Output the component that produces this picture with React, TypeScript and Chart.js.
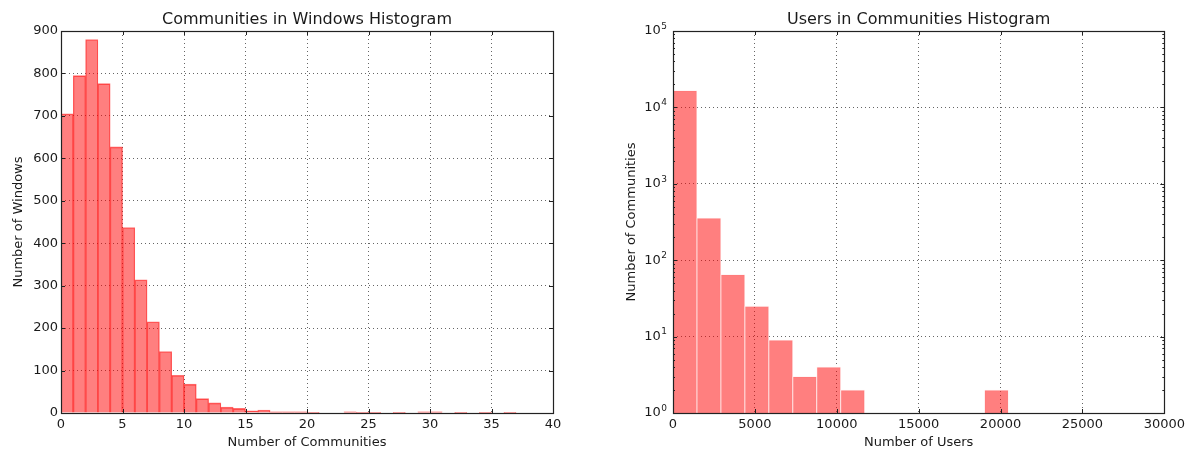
import React, { useEffect, useRef } from "react";
import { Chart, registerables } from "chart.js";

Chart.register(...registerables);

// ---------- Data ----------
// Left: Communities in Windows histogram (bins of width 1 from 0 to 40)
const windowBinStart = 0;
const windowBinWidth = 1;
const windowCounts = [
  705, 795, 880, 776, 627, 437, 314, 215, 145, 89,
  68, 34, 24, 14, 11, 5, 7, 3, 3, 3,
  1, 0, 0, 3, 1, 1, 0, 1, 0, 3,
  3, 0, 1, 0, 1, 0, 1, 0, 0, 0,
];
const windowXTicks = [0, 5, 10, 15, 20, 25, 30, 35, 40];
const windowYTicks = [0, 100, 200, 300, 400, 500, 600, 700, 800, 900];

// Right: Users in Communities histogram (14 bins)
const userBinStart = 0;
const userBinWidth = 1463;
const userCounts = [16600, 356, 65, 25, 9, 3, 4, 2, 0, 0, 0, 0, 0, 2];
const userXTicks = [0, 5000, 10000, 15000, 20000, 25000, 30000];
const userYExponents = [0, 1, 2, 3, 4, 5];

const FONT = "'DejaVu Sans', sans-serif";
const TEXT = "#1a1a1a";

function toBars(start: number, width: number, counts: number[]) {
  return counts.map((c, i) => ({ x: start + width * (i + 0.5), y: c > 0 ? c : null }));
}

function isPow10(v: number) {
  const l = Math.log10(v);
  return Math.abs(l - Math.round(l)) < 1e-9;
}

const mplFrame = {
  id: "mplFrame",
  afterDraw(chart: any, _args: any, opts: any) {
    const { ctx, chartArea: a } = chart;
    const xs = chart.scales.x;
    const ys = chart.scales.y;
    ctx.save();
    ctx.strokeStyle = "#222";
    ctx.lineWidth = 1;
    ctx.beginPath();
    for (const t of xs.ticks) {
      const px = Math.round(xs.getPixelForValue(t.value)) + 0.5;
      ctx.moveTo(px, a.bottom);
      ctx.lineTo(px, a.bottom - 4);
      ctx.moveTo(px, a.top);
      ctx.lineTo(px, a.top + 4);
    }
    for (const t of ys.ticks) {
      const major = opts.log ? isPow10(t.value) : true;
      const len = major ? 4 : 2;
      const py = Math.round(ys.getPixelForValue(t.value)) + 0.5;
      ctx.moveTo(a.left, py);
      ctx.lineTo(a.left + len, py);
      ctx.moveTo(a.right, py);
      ctx.lineTo(a.right - len, py);
    }
    ctx.stroke();
    ctx.lineWidth = 1.2;
    ctx.strokeRect(Math.round(a.left) + 0.5, Math.round(a.top) + 0.5, Math.round(a.right - a.left), Math.round(a.bottom - a.top));

    if (opts.log) {
      ctx.fillStyle = TEXT;
      for (const e of userYExponents) {
        const py = ys.getPixelForValue(Math.pow(10, e));
        ctx.font = `13px ${FONT}`;
        const wBase = ctx.measureText("10").width;
        ctx.font = `9px ${FONT}`;
        const wSup = ctx.measureText(String(e)).width;
        const right = a.left - 6;
        const sx = right - wBase - wSup - 0.5;
        ctx.font = `13px ${FONT}`;
        ctx.textAlign = "left";
        ctx.textBaseline = "middle";
        ctx.fillText("10", sx, py);
        ctx.font = `9px ${FONT}`;
        ctx.textBaseline = "alphabetic";
        ctx.fillText(String(e), sx + wBase + 0.5, py - 2.3);
      }
    }
    ctx.restore();
  },
};

const gridCommon = {
  color: "rgba(0,0,0,0.6)",
  lineWidth: 1,
  drawTicks: false,
  offset: false,
};
const borderCommon = { display: false, dash: [1, 3], dashOffset: 0 };

function leftConfig(): any {
  return {
    type: "bar",
    data: {
      datasets: [
        {
          data: toBars(windowBinStart, windowBinWidth, windowCounts),
          backgroundColor: "rgba(255,0,0,0.5)",
          borderColor: "rgba(255,0,0,0.56)",
          borderWidth: { top: 1, left: 0.6, right: 0.6, bottom: 0 },
          borderSkipped: false,
          barPercentage: 1,
          categoryPercentage: 1,
        },
      ],
    },
    options: {
      responsive: false,
      animation: false,
      devicePixelRatio: 1,
      layout: { padding: { left: 0, right: 41, top: 0, bottom: 0 } },
      plugins: {
        legend: { display: false },
        tooltip: { enabled: false },
        title: {
          display: true,
          text: "Communities in Windows Histogram",
          font: { family: FONT, size: 16, weight: "normal" },
          color: TEXT,
          fullSize: false,
          padding: { top: 10.5, bottom: 1.3 },
        },
        mplFrame: { log: false },
      },
      scales: {
        x: {
          type: "linear",
          offset: false,
          min: 0,
          max: 40,
          afterBuildTicks: (s: any) => { s.ticks = windowXTicks.map((v) => ({ value: v })); },
          afterFit: (s: any) => { s.height = 37; },
          grid: gridCommon,
          border: borderCommon,
          ticks: { font: { family: FONT, size: 13 }, color: TEXT, padding: 4, maxRotation: 0, autoSkip: false },
          title: { display: true, text: "Number of Communities", font: { family: FONT, size: 13 }, color: TEXT, padding: { top: 0, bottom: 0 } },
        },
        y: {
          type: "linear",
          min: 0,
          max: 900,
          afterBuildTicks: (s: any) => { s.ticks = windowYTicks.map((v) => ({ value: v })); },
          afterFit: (s: any) => { s.width = 61; },
          grid: gridCommon,
          border: borderCommon,
          ticks: { font: { family: FONT, size: 13 }, color: TEXT, padding: 3 },
          title: { display: true, text: "Number of Windows", font: { family: FONT, size: 13 }, color: TEXT, padding: { top: 11, bottom: 0 } },
        },
      },
    },
    plugins: [mplFrame],
  };
}

function rightConfig(): any {
  return {
    type: "bar",
    data: {
      datasets: [
        {
          data: toBars(userBinStart, userBinWidth, userCounts),
          backgroundColor: "rgba(255,0,0,0.5)",
          borderColor: "rgba(255,240,240,1)",
          borderWidth: { top: 0.8, left: 0.8, right: 0.8, bottom: 0 },
          borderSkipped: false,
          barPercentage: 1,
          categoryPercentage: 1,
        },
      ],
    },
    options: {
      responsive: false,
      animation: false,
      devicePixelRatio: 1,
      layout: { padding: { left: 0, right: 24, top: 0, bottom: 0 } },
      plugins: {
        legend: { display: false },
        tooltip: { enabled: false },
        title: {
          display: true,
          text: "Users in Communities Histogram",
          font: { family: FONT, size: 16, weight: "normal" },
          color: TEXT,
          fullSize: false,
          padding: { top: 10.5, bottom: 1.3 },
        },
        mplFrame: { log: true },
      },
      scales: {
        x: {
          type: "linear",
          offset: false,
          min: 0,
          max: 30000,
          afterBuildTicks: (s: any) => { s.ticks = userXTicks.map((v) => ({ value: v })); },
          afterFit: (s: any) => { s.height = 37; },
          grid: gridCommon,
          border: borderCommon,
          ticks: {
            font: { family: FONT, size: 13 }, color: TEXT, padding: 4, maxRotation: 0, autoSkip: false,
            callback: (v: any) => String(v),
          },
          title: { display: true, text: "Number of Users", font: { family: FONT, size: 13 }, color: TEXT, padding: { top: 0, bottom: 0 } },
        },
        y: {
          type: "logarithmic",
          min: 1,
          max: 100000,
          afterBuildTicks: (s: any) => {
            const ticks: any[] = [];
            for (let k = 0; k < userYExponents.length - 1; k++) {
              for (let m = 1; m < 10; m++) ticks.push({ value: m * Math.pow(10, userYExponents[k]) });
            }
            ticks.push({ value: Math.pow(10, userYExponents[userYExponents.length - 1]) });
            s.ticks = ticks;
          },
          afterFit: (s: any) => { s.width = 79; },
          grid: {
            ...gridCommon,
            color: (ctx: any) => (ctx.tick && isPow10(ctx.tick.value) ? "rgba(0,0,0,0.6)" : "rgba(0,0,0,0)"),
          },
          border: borderCommon,
          ticks: { display: false },
          title: { display: true, text: "Number of Communities", font: { family: FONT, size: 13 }, color: TEXT, padding: { top: 29.7, bottom: 0 } },
        },
      },
    },
    plugins: [mplFrame],
  };
}

function ChartCanvas({ config, left, width }: { config: () => any; left: number; width: number }) {
  const ref = useRef<HTMLCanvasElement | null>(null);
  useEffect(() => {
    if (!ref.current) return;
    const chart = new Chart(ref.current, config());
    return () => chart.destroy();
  }, [config]);
  return (
    <canvas
      ref={ref}
      width={width}
      height={450}
      style={{ position: "absolute", left, top: 0, width, height: 450 }}
    />
  );
}

export default function App() {
  return (
    <div style={{ position: "absolute", left: 0, top: 0, width: 1189, height: 450, background: "#fff" }}>
      <ChartCanvas config={leftConfig} left={0} width={594} />
      <ChartCanvas config={rightConfig} left={594} width={595} />
    </div>
  );
}
